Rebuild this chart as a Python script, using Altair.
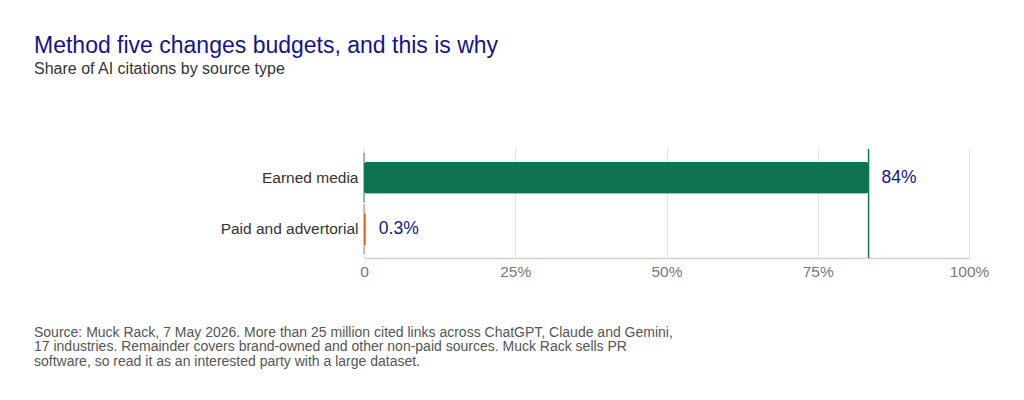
import altair as alt
import pandas as pd

categories = ["Earned media", "Paid and advertorial"]
values = [83.4, 0.3]
labels = ["84%", "0.3%"]
colors = ["#0e7353", "#e05a1a"]

footnote = [
    "Source: Muck Rack, 7 May 2026. More than 25 million cited links across ChatGPT, Claude and Gemini,",
    "17 industries. Remainder covers brand-owned and other non-paid sources. Muck Rack sells PR",
    "software, so read it as an interested party with a large dataset.",
]

df = pd.DataFrame({"category": categories, "value": values, "label": labels})
FONT = "Liberation Sans"
NAVY = "#14148c"

y_enc = alt.Y("category:N", sort=categories, title=None,
              scale=alt.Scale(paddingInner=0.38, paddingOuter=0.25),
              axis=alt.Axis(domain=False, ticks=False, labelFontSize=15.5,
                            labelColor="#333333", labelPadding=6, labelFont=FONT))
x_enc = alt.X("value:Q", title=None,
              scale=alt.Scale(domain=[0, 100], nice=False),
              axis=alt.Axis(values=[0, 25, 50, 75, 100], labelExpr="datum.value == 0 ? '0' : datum.value + '%'",
                            grid=True, gridColor="#e3e3e3", domainColor="#d6d0ca", domainWidth=1.5,
                            ticks=False, labelFontSize=15.5, labelColor="#777777", labelFlush=False,
                            labelPadding=6, labelFont=FONT))
color_enc = alt.Color("category:N", scale=alt.Scale(domain=categories, range=colors), legend=None)

base = alt.Chart(df)

bars = base.mark_bar(cornerRadius=3).encode(x=x_enc, y=y_enc, color=color_enc)

ticks = base.mark_tick(size=50, thickness=1.2).encode(
    x=alt.datum(0), y=alt.Y("category:N", sort=categories), color=color_enc)

rule = base.transform_filter(alt.datum.category == categories[0]).mark_rule(
    strokeWidth=1.5, color="#0e7a55").encode(x="value:Q")

text = base.mark_text(align="left", dx=13, fontSize=17.5, font=FONT, color=NAVY).encode(
    x="value:Q", y=alt.Y("category:N", sort=categories), text="label:N")

foot = alt.Chart(pd.DataFrame({"t": [footnote]})).mark_text(
    align="left", baseline="top", fontSize=14, font=FONT, color="#555555", lineHeight=14.5
).encode(x=alt.value(-330), y=alt.value(176.5), text="t")

chart = alt.layer(bars, ticks, rule, text, foot).properties(
    width=605, height=109,
    padding={"left": 356, "top": 141, "right": 47, "bottom": 130},
    autosize=alt.AutoSizeParams(type="none"),
    title=alt.TitleParams(
        text="Method five changes budgets, and this is why",
        subtitle="Share of AI citations by source type",
        anchor="start", frame="group", dx=-330, offset=71,
        fontSize=23, font=FONT, fontWeight="normal", color=NAVY,
        subtitleFontSize=16, subtitleFont=FONT, subtitleColor="#333333", subtitlePadding=3,
    ),
).configure_view(stroke=None)

chart.save("out.html", embed_options={"renderer": "svg", "actions": False})
